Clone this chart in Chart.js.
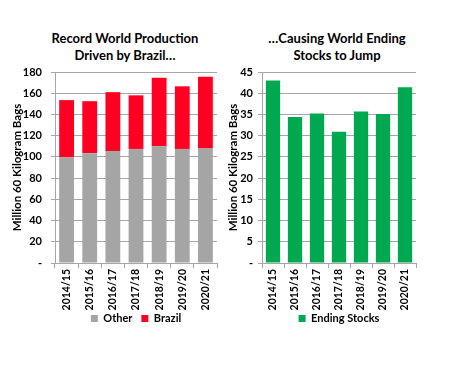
<!DOCTYPE html>
<html>
<head>
<meta charset="utf-8">
<script src="https://cdn.jsdelivr.net/npm/chart.js@4"></script>
<style>
    body { margin: 0; background: #fff; width: 454px; height: 365px; position: relative; overflow: hidden; }
    .title {
        position: absolute;
        top: 30px;
        width: 200px;
        text-align: center;
        font: bold 13px Lato, sans-serif;
        line-height: 17px;
        color: #000;
    }
    .box { position: absolute; top: 0; height: 365px; }
    canvas { display: block; }
</style>
</head>
<body>
<div class="title" style="left: 25px;">Record World Production<br>Driven by Brazil…</div>
<div class="title" style="left: 237px;">…Causing World Ending<br>Stocks to Jump</div>
<div class="box" style="left: 0; width: 230px;"><canvas id="production-chart" width="230" height="365"></canvas></div>
<div class="box" style="left: 225px; width: 229px;"><canvas id="stocks-chart" width="229" height="365"></canvas></div>
<script>
// Marketing years
const seasons = ['2014/15', '2015/16', '2016/17', '2017/18', '2018/19', '2019/20', '2020/21'];

// Million 60 kg bags
const otherProduction = [99.5, 103.5, 105.5, 107.5, 110, 107.5, 108];
const brazilProduction = [54, 49, 55.5, 50.5, 64.5, 59, 67.5];
const endingStocks = [43.0, 34.4, 35.2, 30.9, 35.7, 35.1, 41.4];

const GRID = '#a6a6a6';
const FONT = { family: 'Lato, sans-serif', size: 11, weight: 'bold' };
const XFONT = { family: 'Lato, sans-serif', size: 10.5, weight: 'bold' };
const TITLE_FONT = { family: 'Lato, sans-serif', size: 11.5, weight: 'bold' };

function zeroDash(v) {
    return v === 0 ? '-' : v;
}

function buildScales(max, step, yWidth, tickPad) {
    return {
        x: {
            stacked: true,
            grid: { display: true, drawOnChartArea: false, tickLength: 5, color: GRID },
            border: { color: GRID, width: 1 },
            ticks: { color: '#000', font: XFONT, minRotation: 90, maxRotation: 90, padding: 1, autoSkip: false },
            // labels are clipped to the axis box, so it has to hold them
            afterFit: (scale) => { scale.height = 48; }
        },
        y: {
            stacked: true,
            min: 0,
            max: max,
            ticks: { stepSize: step, color: '#000', font: FONT, padding: tickPad, callback: zeroDash },
            grid: { color: GRID, lineWidth: 1, tickLength: 4 },
            border: { color: GRID, width: 1 },
            title: { display: true, text: 'Million 60 Kilogram Bags', color: '#000', font: TITLE_FONT, padding: 0 },
            afterFit: (scale) => { scale.width = yWidth; }
        }
    };
}

// spread items apart without making the legend taller
function spacedLabels(chart) {
    const items = Chart.defaults.plugins.legend.labels.generateLabels(chart);
    return items.map((item, i) => i < items.length - 1 ? { ...item, text: item.text + '\u2002\u2009' } : item);
}

const legendOpts = {
    position: 'bottom',
    fullSize: false,
    labels: { color: '#000', font: FONT, boxWidth: 7, boxHeight: 7, padding: 2, generateLabels: spacedLabels }
};

new Chart(document.getElementById('production-chart'), {
    type: 'bar',
    data: {
        labels: seasons,
        datasets: [
            { label: 'Other', data: otherProduction, backgroundColor: '#a5a5a5', categoryPercentage: 1, barPercentage: 0.64 },
            { label: 'Brazil', data: brazilProduction, backgroundColor: '#ff0022', categoryPercentage: 1, barPercentage: 0.64 }
        ]
    },
    options: {
        responsive: false,
        animation: false,
        devicePixelRatio: 1,
        layout: { padding: { top: 72, left: 10, right: 13, bottom: 31 } },
        plugins: { legend: legendOpts, tooltip: { enabled: false } },
        scales: buildScales(180, 20, 45, 9)
    }
});

new Chart(document.getElementById('stocks-chart'), {
    type: 'bar',
    data: {
        labels: seasons,
        datasets: [
            { label: 'Ending Stocks', data: endingStocks, backgroundColor: '#00a94f', categoryPercentage: 1, barPercentage: 0.65 }
        ]
    },
    options: {
        responsive: false,
        animation: false,
        devicePixelRatio: 1,
        layout: { padding: { top: 72, left: 1, right: 38, bottom: 31 } },
        plugins: { legend: legendOpts, tooltip: { enabled: false } },
        scales: buildScales(45, 5, 36, 5)
    }
});
</script>
</body>
</html>
